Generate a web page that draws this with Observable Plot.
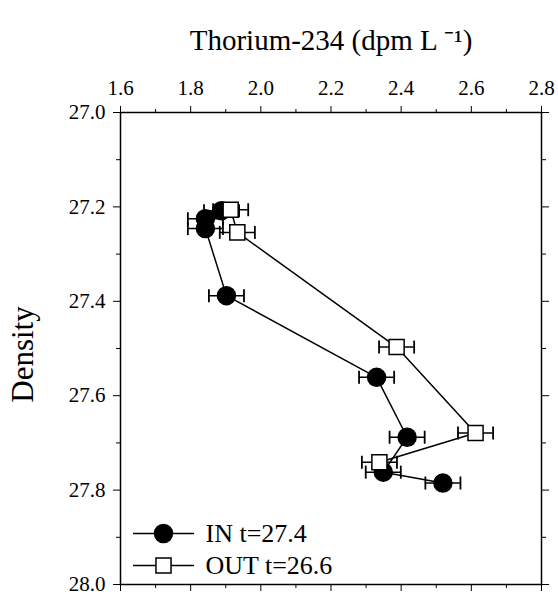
<!DOCTYPE html>
<html><head><meta charset="utf-8">
<script src="https://cdn.jsdelivr.net/npm/d3@7"></script>
<script src="https://cdn.jsdelivr.net/npm/@observablehq/plot@0.6"></script>
<style>body{margin:0;background:#fff;} svg text{font-family:'Liberation Serif','Times New Roman',serif !important;font-variant:normal !important;}</style>
</head><body><div id="chart"></div>
<script>
// IN profile (filled circles)
const inDensity = [27.208, 27.225, 27.246, 27.388, 27.561, 27.688, 27.762, 27.785];
const inThorium = [1.888, 1.842, 1.842, 1.902, 2.330, 2.417, 2.349, 2.519];
const inError   = [0.05, 0.05, 0.05, 0.05, 0.05, 0.05, 0.05, 0.05];
// OUT profile (open squares)
const outDensity = [27.206, 27.254, 27.497, 27.679, 27.741];
const outThorium = [1.914, 1.933, 2.387, 2.612, 2.338];
const outError   = [0.05, 0.05, 0.05, 0.05, 0.05];
// ticks and labels
const xMajor = [1.6, 1.8, 2.0, 2.2, 2.4, 2.6, 2.8];
const xMinor = [1.7, 1.9, 2.1, 2.3, 2.5, 2.7];
const yMajor = [27.0, 27.2, 27.4, 27.6, 27.8, 28.0];
const yMinor = [27.1, 27.3, 27.5, 27.7, 27.9];
const xTitle = ["Thorium-234 (dpm L \u207B\u00B9)"];
const yTitle = ["Density"];
const legendIN = ["IN t=27.4"];
const legendOUT = ["OUT t=26.6"];

const inData = inDensity.map((d, i) => ({d, v: inThorium[i], e: inError[i]}));
const outData = outDensity.map((d, i) => ({d, v: outThorium[i], e: outError[i]}));

const vbar = {draw(ctx, size) { const r = Math.sqrt(size / Math.PI); ctx.moveTo(0, -r); ctx.lineTo(0, r); }};
const hbar = {draw(ctx, size) { const r = Math.sqrt(size / Math.PI); ctx.moveTo(-r, 0); ctx.lineTo(r, 0); }};
const noLabel = () => "";

function errorMarks(data) {
  return [
    Plot.ruleY(data, {y: "d", x1: p => p.v - p.e, x2: p => p.v + p.e, stroke: "black", strokeWidth: 1.5}),
    Plot.dot(data, {x: p => p.v - p.e, y: "d", symbol: vbar, r: 6.5, fill: "none", stroke: "black", strokeWidth: 1.8}),
    Plot.dot(data, {x: p => p.v + p.e, y: "d", symbol: vbar, r: 6.5, fill: "none", stroke: "black", strokeWidth: 1.8})
  ];
}

const font = "'Liberation Serif', 'Times New Roman', serif";

const plot = Plot.plot({
  width: 558, height: 592,
  marginTop: 112, marginBottom: 8, marginLeft: 120, marginRight: 17,
  style: {fontFamily: font, fontSize: "21px", color: "black", background: "white", overflow: "visible"},
  x: {domain: [1.6, 2.8], axis: null},
  y: {domain: [27, 28], reverse: true, axis: null},
  marks: [
    Plot.frame({stroke: "black", strokeWidth: 1.5}),
    Plot.axisX({anchor: "top", ticks: xMajor, tickSize: 7, tickPadding: 11, tickFormat: d3.format(".1f"), fontSize: 21, fontFamily: font, label: null}),
    Plot.axisX({anchor: "top", ticks: xMinor, tickSize: 4, tickFormat: noLabel, label: null}),
    Plot.axisX({anchor: "bottom", ticks: xMajor, tickSize: 7, tickFormat: noLabel, label: null}),
    Plot.axisX({anchor: "bottom", ticks: xMinor, tickSize: 4, tickFormat: noLabel, label: null}),
    Plot.axisY({anchor: "left", ticks: yMajor, tickSize: 7, tickPadding: 8, tickFormat: d3.format(".1f"), fontSize: 21, fontFamily: font, label: null}),
    Plot.axisY({anchor: "left", ticks: yMinor, tickSize: 4, tickFormat: noLabel, label: null}),
    Plot.axisY({anchor: "right", ticks: yMajor, tickSize: 7, tickFormat: noLabel, label: null}),
    Plot.axisY({anchor: "right", ticks: yMinor, tickSize: 4, tickFormat: noLabel, label: null}),
    ...errorMarks(inData),
    Plot.line(inData, {x: "v", y: "d", stroke: "black", strokeWidth: 1.5}),
    Plot.dot(inData, {x: "v", y: "d", r: 9, fill: "black", stroke: "black"}),
    ...errorMarks(outData),
    Plot.line(outData, {x: "v", y: "d", stroke: "black", strokeWidth: 1.5}),
    Plot.dot(outData, {x: "v", y: "d", symbol: "square", r: 8.5, fill: "white", stroke: "black", strokeWidth: 1.5}),
    // legend
    Plot.dot(legendIN, {frameAnchor: "bottom-left", dx: 43, dy: -51, symbol: hbar, r: 30.5, fill: "none", stroke: "black", strokeWidth: 1.5}),
    Plot.dot(legendIN, {frameAnchor: "bottom-left", dx: 43, dy: -51, r: 9, fill: "black", stroke: "black"}),
    Plot.text(legendIN, {text: d => d, frameAnchor: "bottom-left", dx: 85, dy: -51, textAnchor: "start", lineAnchor: "middle", fontSize: 26, fontFamily: font, fill: "black"}),
    Plot.dot(legendOUT, {frameAnchor: "bottom-left", dx: 43, dy: -19, symbol: hbar, r: 30.5, fill: "none", stroke: "black", strokeWidth: 1.5}),
    Plot.dot(legendOUT, {frameAnchor: "bottom-left", dx: 43, dy: -19, symbol: "square", r: 8.5, fill: "white", stroke: "black", strokeWidth: 1.5}),
    Plot.text(legendOUT, {text: d => d, frameAnchor: "bottom-left", dx: 85, dy: -19, textAnchor: "start", lineAnchor: "middle", fontSize: 26, fontFamily: font, fill: "black"}),
    // titles
    Plot.text(xTitle, {text: d => d, frameAnchor: "top", dy: -72, lineAnchor: "middle", textAnchor: "middle", fontSize: 29, fontFamily: font, fill: "black"}),
    Plot.text(yTitle, {text: d => d, frameAnchor: "left", dx: -97, dy: 6, rotate: -90, lineAnchor: "middle", textAnchor: "middle", fontSize: 31, fontFamily: font, fill: "black"})
  ]
});
document.getElementById("chart").appendChild(plot);
</script>
</body></html>
